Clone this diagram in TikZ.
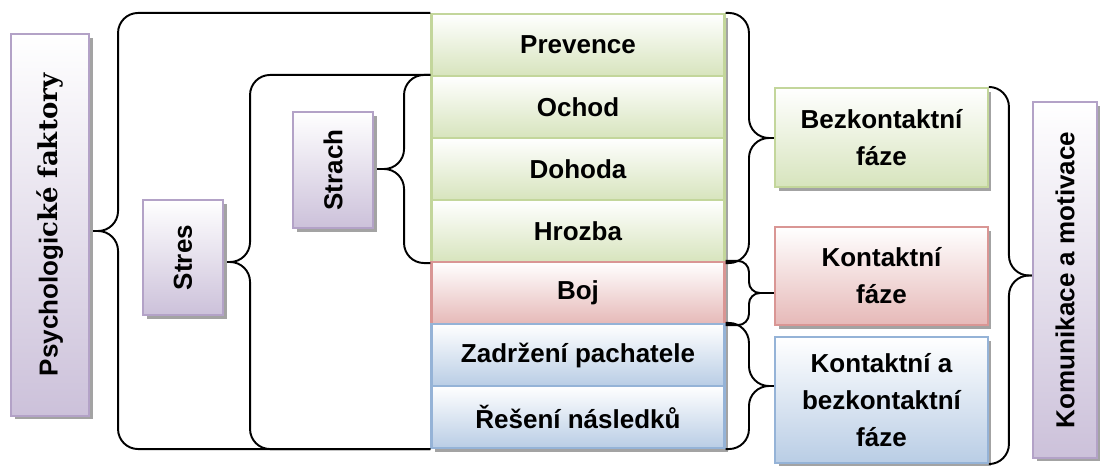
\documentclass[tikz,border=0pt]{standalone}
\usepackage{fontspec}
\setmainfont{Liberation Sans}
\newfontfamily\patkove{DejaVu Serif}
\usepackage{graphicx}
\usetikzlibrary{calc}
\usetikzlibrary{shadows}
\usepackage{xcolor}

\definecolor{zelF}{HTML}{D7E4BD}
\definecolor{zelC}{HTML}{C3D69B}
\definecolor{cerF}{HTML}{E6B9B8}
\definecolor{cerC}{HTML}{D99694}
\definecolor{modF}{HTML}{B9CDE5}
\definecolor{modC}{HTML}{95B3D7}
\definecolor{fiaF}{HTML}{CCC1DA}
\definecolor{fiaC}{HTML}{B3A2C7}

\begin{document}
\begin{tikzpicture}[x=0.02cm, y=-0.02cm,
  box/.style={draw=#1C, line width=1.2pt, top color=white, bottom color=#1F,
    drop shadow={shadow xshift=2pt, shadow yshift=-2pt, fill=black!45, opacity=.8},
    font=\bfseries\fontsize{14.8}{21}\selectfont, align=center, inner sep=0pt},
  radek/.style={minimum width=5.86cm, minimum height=1.24cm},
  faze/.style={minimum width=4.26cm},
  zavorka/.style={black, line width=1.1pt, rounded corners=0.4cm}]
\useasboundingbox (0,0) rectangle (1100,466);

\foreach \jm/\txt/\barva [count=\i] in {prev/Prevence/zel, ochod/Ochod/zel, dohoda/Dohoda/zel,
  hrozba/Hrozba/zel, boj/Boj/cer, zadrz/Zadržení pachatele/mod, reseni/Řešení následků/mod}
 \node[box=\barva, radek] (\jm) at (578,{62*\i-17}) {\txt};

\node[box=fia, minimum width=1.56cm, minimum height=7.64cm] (psych) at (50,225)
  {\rotatebox{90}{Psychologi{\patkove cké faktory}}};
\node[box=fia, minimum width=1.6cm, minimum height=2.3cm] (stres) at (183,257.5) {\rotatebox{90}{Stres}};
\node[box=fia, minimum width=1.6cm, minimum height=2.32cm] (strach) at (333,170) {\rotatebox{90}{Strach}};
\node[box=fia, minimum width=1.28cm, minimum height=7.12cm] (komun) at (1065,280) {\rotatebox{90}{Komunikace a motivace}};

\node[box=zel, faze, minimum height=1.98cm] (bezk) at (881.5,137.5) {Bezkontaktní\\fáze};
\node[box=cer, faze, minimum height=1.96cm] (kont) at (881.5,276) {Kontaktní\\fáze};
\node[box=mod, faze, minimum height=2.52cm] (kab) at (881.5,400) {Kontaktní a\\bezkontaktní\\fáze};

% leve zavorky
\coordinate (m1) at ($(prev.north west)!.5!(reseni.south west)$);
\coordinate (t1) at ($(psych.east |- m1)+(3,0)$);
\draw[zavorka] (prev.north west) -| ($(t1)+(25,0)$) -- (t1);
\draw[zavorka] (reseni.south west) -| ($(t1)+(25,0)$) -- (t1);

\coordinate (m2) at ($(ochod.north west)!.5!(reseni.south west)$);
\coordinate (t2) at ($(stres.east |- m2)+(3,0)$);
\draw[zavorka] (ochod.north west) -| ($(t2)+(23,0)$) -- (t2);
\draw[zavorka] (reseni.south west) -| ($(t2)+(23,0)$) -- (t2);

\coordinate (m3) at ($(ochod.north west)!.5!(hrozba.south west)$);
\coordinate (t3) at ($(strach.east |- m3)+(3,0)$);
\draw[zavorka] (ochod.north west) -| ($(t3)+(27,0)$) -- (t3);
\draw[zavorka] (hrozba.south west) -| ($(t3)+(27,0)$) -- (t3);

% prave zavorky
\coordinate (t4) at (bezk.west |- {$(prev.north east)!.5!(hrozba.south east)$});
\draw[zavorka] (prev.north east) -| ($(t4)+(-25,0)$) -- (t4);
\draw[zavorka] (hrozba.south east) -| ($(t4)+(-25,0)$) -- (t4);

\coordinate (t5) at (kont.west |- boj.east);
\draw[zavorka, rounded corners=0.22cm] (boj.north east) -| ($(t5)+(-25,0)$) -- (t5);
\draw[zavorka, rounded corners=0.22cm] (boj.south east) -| ($(t5)+(-25,0)$) -- (t5);

\coordinate (t6) at (kab.west |- {$(zadrz.north east)!.5!(reseni.south east)$});
\draw[zavorka] (zadrz.north east) -| ($(t6)+(-25,0)$) -- (t6);
\draw[zavorka] (reseni.south east) -| ($(t6)+(-25,0)$) -- (t6);

\coordinate (t7) at (komun.west |- {$(bezk.north east)!.5!(kab.south east)$});
\draw[zavorka] (bezk.north east) -| ($(t7)+(-23,0)$) -- (t7);
\draw[zavorka] (kab.south east) -| ($(t7)+(-23,0)$) -- (t7);
\end{tikzpicture}
\end{document}
